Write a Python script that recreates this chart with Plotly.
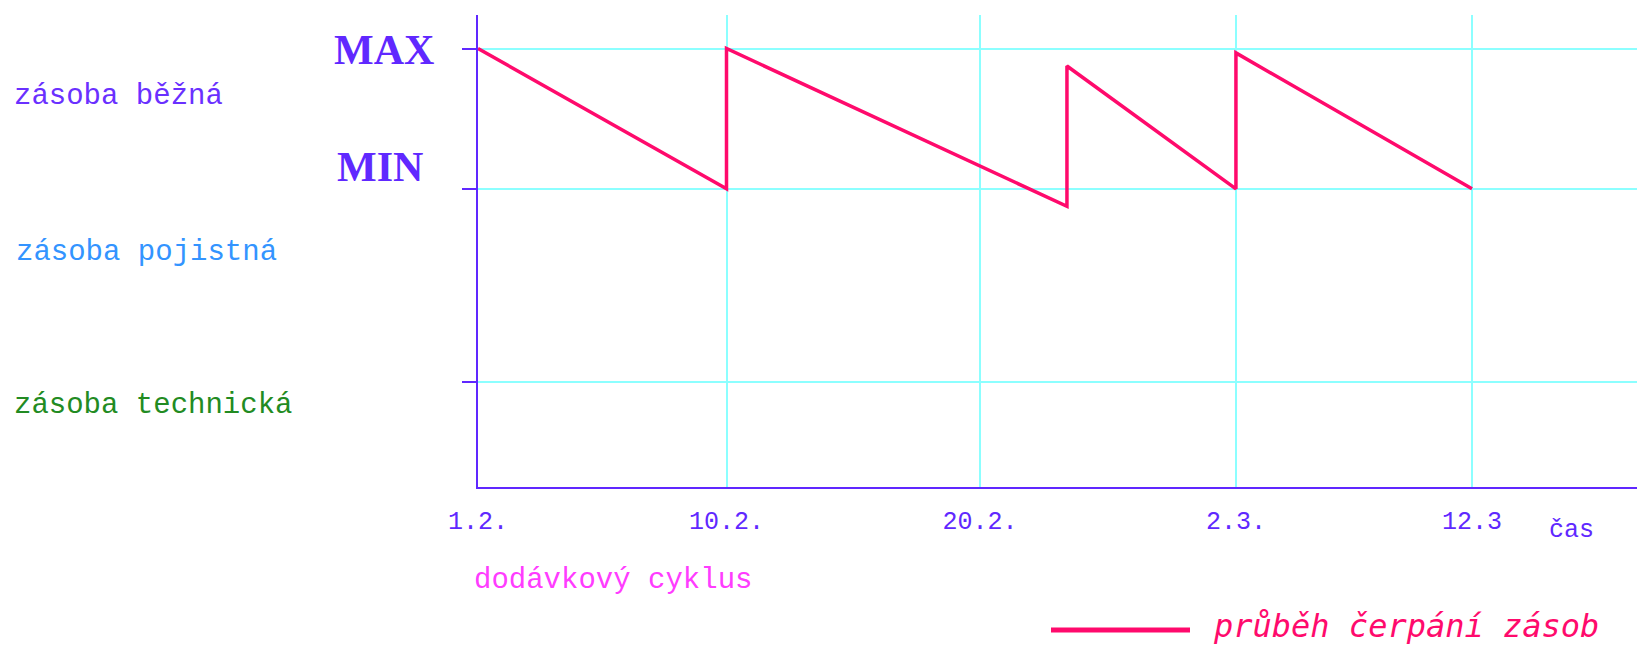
import plotly.graph_objects as go

# ---- data ----
tick_labels = ["1.2.", "10.2.", "20.2.", "2.3.", "12.3"]
tick_pos = [0, 1.0, 2.02, 3.05, 4.0]
level_names = ["MAX", "MIN"]
level_values = [100, 68]
tech_level = 24
stock_x = [0, 1.0, 1.0, 2.37, 2.37, 3.05, 3.05, 4.0]
stock_y = [100, 68, 100, 64, 96, 68, 99, 68]

AX = "#6028ff"
GRID = "#8cffff"
PINK = "#ff0a6c"

W, H = 1637, 646
L, R, T, B = 478, 0, 15, 159
PW, PH = W - L - R, H - T - B


def px_x(p):
    return (p - L) / PW


def px_y(p):
    return (H - B - p) / PH


fig = go.Figure()
fig.add_trace(go.Scatter(
    x=stock_x, y=stock_y, mode="lines",
    line=dict(color=PINK, width=3.5),
    showlegend=False, hoverinfo="skip",
))

fig.update_layout(
    width=W, height=H,
    margin=dict(l=L, r=R, t=T, b=B),
    paper_bgcolor="white", plot_bgcolor="white",
    showlegend=False,
    xaxis=dict(
        range=[0, PW / 248.5],
        tickvals=tick_pos, ticktext=tick_labels,
        showgrid=True, gridcolor=GRID, gridwidth=2,
        showline=True, linecolor=AX, linewidth=2,
        zeroline=False, ticks="", ticklabelstandoff=10,
        tickfont=dict(family="Liberation Mono", size=25, color=AX),
    ),
    yaxis=dict(
        range=[0, PH / 4.385],
        tickvals=[tech_level] + level_values,
        showticklabels=False,
        showgrid=True, gridcolor=GRID, gridwidth=2,
        showline=True, linecolor=AX, linewidth=2,
        zeroline=False, ticks="outside", ticklen=14, tickwidth=2, tickcolor=AX,
    ),
)

ann = []
# MAX / MIN labels
ann.append(dict(text="<b>%s</b>" % level_names[0], x=px_x(384), y=px_y(50),
                font=dict(family="Liberation Serif", size=42, color=AX)))
ann.append(dict(text="<b>%s</b>" % level_names[1], x=px_x(380), y=px_y(167),
                font=dict(family="Liberation Serif", size=42, color=AX)))
# left zone labels
ann.append(dict(text="zásoba běžná", x=px_x(12), y=px_y(97), xanchor="left",
                font=dict(family="Liberation Mono", size=29, color="#6a30ff")))
ann.append(dict(text="zásoba pojistná", x=px_x(14), y=px_y(252), xanchor="left",
                font=dict(family="Liberation Mono", size=29, color="#3394ff")))
ann.append(dict(text="zásoba technická", x=px_x(12), y=px_y(405), xanchor="left",
                font=dict(family="Liberation Mono", size=29, color="#228b22")))
ann.append(dict(text="dodávkový cyklus", x=px_x(472), y=px_y(580), xanchor="left",
                font=dict(family="Liberation Mono", size=29, color="#ff3cff")))
ann.append(dict(text="čas", x=px_x(1571), y=px_y(530),
                font=dict(family="Liberation Mono", size=25, color=AX)))
# legend text
ann.append(dict(text="<i>průběh čerpání zásob</i>", x=px_x(1211), y=px_y(626), xanchor="left",
                font=dict(family="DejaVu Sans Mono", size=32, color=PINK)))
for a in ann:
    a.update(xref="paper", yref="paper", showarrow=False)
    a.setdefault("xanchor", "center")
    a.setdefault("yanchor", "middle")
fig.update_layout(annotations=ann)

# legend sample line
fig.add_shape(type="line", xref="paper", yref="paper",
              x0=px_x(1051), x1=px_x(1190), y0=px_y(630), y1=px_y(630),
              line=dict(color=PINK, width=5))

fig.write_html("out.html",
               config={"displayModeBar": False},
               post_script="document.body.style.margin='0';document.body.style.overflow='hidden';")
